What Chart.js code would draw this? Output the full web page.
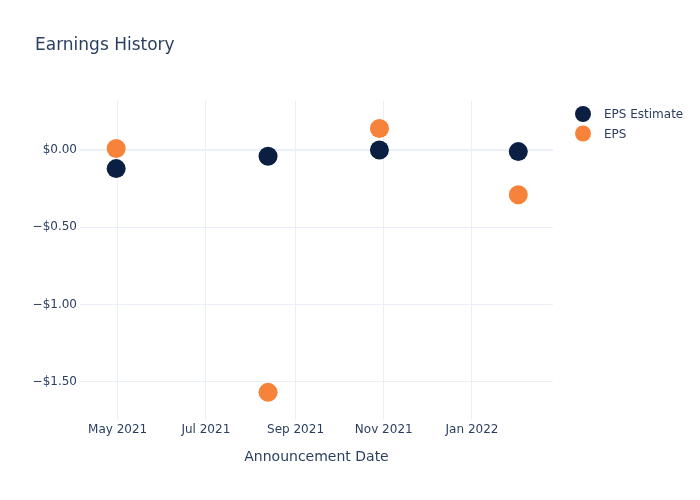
<!DOCTYPE html>
<html>
<head>
<meta charset="utf-8">
<script src="https://cdn.jsdelivr.net/npm/chart.js@4/dist/chart.umd.min.js"></script>
<style>
  html, body { margin: 0; padding: 0; background: #fff; }
  #wrap { width: 700px; height: 500px; }
</style>
</head>
<body>
<div id="wrap"><canvas id="earningsChart" width="700" height="500"></canvas></div>
<script>
// Dados
var announceDates = ['2021-04-30', '2021-08-13', '2021-10-29', '2022-02-02'];
var epsEstimate = [-0.12, -0.04, 0.00, -0.01];
var epsActual = [0.01, -1.57, 0.14, -0.29];
var xTickDates = ['2021-05-01', '2021-07-01', '2021-09-01', '2021-11-01', '2022-01-01'];
var xTickLabels = ['May 2021', 'Jul 2021', 'Sep 2021', 'Nov 2021', 'Jan 2022'];
var yTickValues = [0, -0.5, -1, -1.5];
var xRange = ['2021-04-05', '2022-02-26'];
var yRange = [-1.749, 0.318];

var seriesNames = ['EPS Estimate', 'EPS'];
var seriesColors = ['#0b1f42', '#f7823a'];
var textColor = '#2a3f5f';
var gridColor = '#ebf0f8';
var fontFamily = '"DejaVu Sans", Verdana, sans-serif';

function toTs(d) {
    var p = d.split('-');
    return Date.UTC(+p[0], +p[1] - 1, +p[2]);
}

function toPoints(values) {
    return values.map(function(v, i) {
        return { x: toTs(announceDates[i]), y: v };
    });
}

function formatMoney(v) {
    var s = '$' + Math.abs(v).toFixed(2);
    return v < -1e-9 ? '\u2212' + s : s;
}

// Título e legenda desenhados à moda do plotly
var decorPlugin = {
    id: 'decor',
    afterDraw: function(chart) {
        var ctx = chart.ctx;
        ctx.save();
        ctx.fillStyle = textColor;
        ctx.font = '17px ' + fontFamily;
        ctx.textAlign = 'left';
        ctx.textBaseline = 'middle';
        ctx.fillText('Earnings History', 35, 46);

        ctx.font = '12px ' + fontFamily;
        seriesNames.forEach(function(name, i) {
            var y = 114 + i * 19.5;
            ctx.beginPath();
            ctx.arc(583, y, 8, 0, Math.PI * 2);
            ctx.fillStyle = seriesColors[i];
            ctx.fill();
            ctx.fillStyle = textColor;
            ctx.fillText(name, 604, y + 1);
        });
        ctx.restore();
    }
};

var ctx = document.getElementById('earningsChart');
new Chart(ctx.getContext('2d'), {
    type: 'scatter',
    data: {
        datasets: [{
            label: seriesNames[1],
            data: toPoints(epsActual),
            backgroundColor: seriesColors[1],
            borderColor: seriesColors[1],
            pointRadius: 9.5,
            pointHoverRadius: 9.5,
            borderWidth: 0
        }, {
            label: seriesNames[0],
            data: toPoints(epsEstimate),
            backgroundColor: seriesColors[0],
            borderColor: seriesColors[0],
            pointRadius: 9.5,
            pointHoverRadius: 9.5,
            borderWidth: 0
        }]
    },
    options: {
        responsive: false,
        animation: false,
        events: [],
        layout: {
            padding: { left: 0, top: 101, right: 147, bottom: 0 }
        },
        plugins: {
            legend: { display: false },
            title: { display: false },
            tooltip: { enabled: false }
        },
        scales: {
            x: {
                type: 'linear',
                min: toTs(xRange[0]),
                max: toTs(xRange[1]),
                afterFit: function(scale) { scale.height = 80; },
                afterBuildTicks: function(scale) {
                    scale.ticks = xTickDates.map(function(d) { return { value: toTs(d) }; });
                },
                border: { display: false },
                grid: { color: gridColor, lineWidth: 1, drawTicks: false },
                ticks: {
                    color: textColor,
                    font: { family: fontFamily, size: 12 },
                    padding: 3,
                    maxRotation: 0,
                    autoSkip: false,
                    callback: function(value) {
                        var idx = xTickDates.map(toTs).indexOf(value);
                        return idx >= 0 ? xTickLabels[idx] : '';
                    }
                },
                title: {
                    display: true,
                    text: 'Announcement Date',
                    color: textColor,
                    font: { family: fontFamily, size: 14 },
                    padding: { top: 0, bottom: 34 }
                }
            },
            y: {
                min: yRange[0],
                max: yRange[1],
                afterFit: function(scale) { scale.width = 80; },
                afterBuildTicks: function(scale) {
                    scale.ticks = yTickValues.map(function(v) { return { value: v }; });
                },
                border: { display: false },
                grid: {
                    drawTicks: false,
                    color: gridColor,
                    lineWidth: function(c) { return c.tick && c.tick.value === 0 ? 2 : 1; }
                },
                ticks: {
                    color: textColor,
                    font: { family: fontFamily, size: 12 },
                    padding: 3,
                    callback: function(value) { return formatMoney(value); }
                }
            }
        }
    },
    plugins: [decorPlugin]
});
</script>
</body>
</html>
